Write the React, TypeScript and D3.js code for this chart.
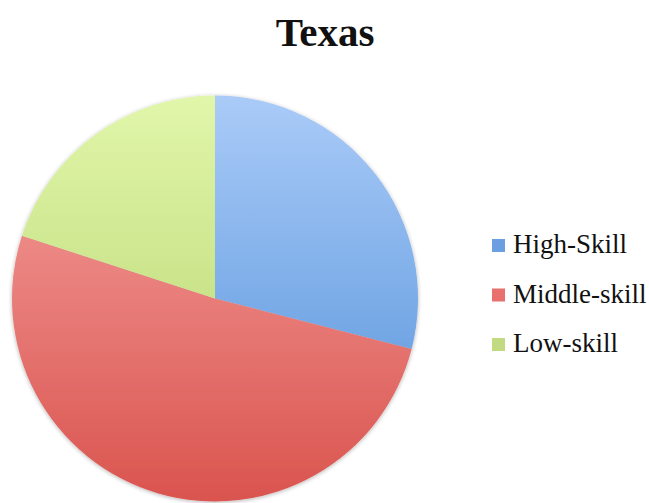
import React from "react";
import * as d3 from "d3";

const categories = ["High-Skill", "Middle-skill", "Low-skill"];
const values = [29, 51, 20];
const gradTop = ["#aacbf8", "#f6a5a2", "#e1f6aa"];
const gradBottom = ["#4e8ed8", "#da544f", "#b2d169"];
const legendColors = ["#6b9fe2", "#e8716d", "#c2db82"];

const W = 649;
const H = 503;
const cx = 215;
const cy = 298.5;
const R = 203;

export default function App() {
  const pie = d3.pie<number>().sort(null).value((d) => d);
  const arcs = pie(values);
  const arc = d3.arc<d3.PieArcDatum<number>>().innerRadius(0).outerRadius(R);
  const legendY = d3.scaleLinear().domain([0, 2]).range([253, 352]);

  return (
    <svg
      width={W}
      height={H}
      style={{ position: "absolute", left: 0, top: 0, background: "#fff" }}
    >
      <defs>
        {categories.map((c, i) => (
          <linearGradient
            key={c}
            id={`g${i}`}
            gradientUnits="userSpaceOnUse"
            x1={0}
            y1={-R}
            x2={0}
            y2={R}
          >
            <stop offset="0%" stopColor={gradTop[i]} />
            <stop offset="100%" stopColor={gradBottom[i]} />
          </linearGradient>
        ))}
        <filter id="sh" x="-10%" y="-10%" width="120%" height="120%">
          <feGaussianBlur in="SourceAlpha" stdDeviation="2" />
          <feOffset dx="0" dy="1" result="b" />
          <feComponentTransfer>
            <feFuncA type="linear" slope="0.3" />
          </feComponentTransfer>
          <feMerge>
            <feMergeNode />
            <feMergeNode in="SourceGraphic" />
          </feMerge>
        </filter>
      </defs>
      <text
        x={325}
        y={46}
        textAnchor="middle"
        fontFamily="Liberation Serif, serif"
        fontWeight="bold"
        fontSize={41}
        fill="#111"
      >
        Texas
      </text>
      <g transform={`translate(${cx},${cy})`} filter="url(#sh)">
        {arcs.map((a, i) => (
          <path key={categories[i]} d={arc(a) || ""} fill={`url(#g${i})`} />
        ))}
      </g>
      {categories.map((c, i) => (
        <g key={c}>
          <rect
            x={492}
            y={legendY(i) - 14}
            width={13}
            height={13}
            fill={legendColors[i]}
          />
          <text
            x={513}
            y={legendY(i)}
            fontFamily="Liberation Serif, serif"
            fontSize={27}
            fill="#111"
          >
            {c}
          </text>
        </g>
      ))}
    </svg>
  );
}
